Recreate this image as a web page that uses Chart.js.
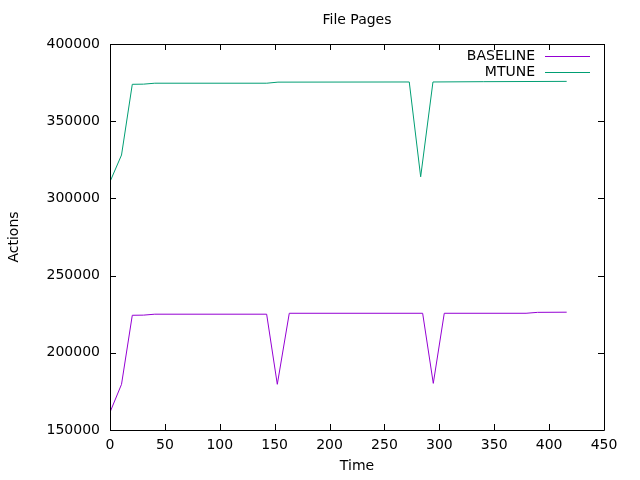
<!DOCTYPE html>
<html>
<head>
<meta charset="utf-8">
<script src="https://cdn.jsdelivr.net/npm/chart.js@4/dist/chart.umd.min.js"></script>
<style>
html,body{margin:0;padding:0;background:#fff;}
#wrap{width:640px;height:480px;}
</style>
</head>
<body>
<div id="wrap"><canvas id="c" width="640" height="480"></canvas></div>
<script>
const chartTitle = "File Pages";
const xTitle = "Time";
const yTitle = "Actions";
const seriesNames = ["BASELINE", "MTUNE"];
const seriesColors = ["#9400D3", "#009E73"];

const baselineTimes  = [0, 10.5, 20.3, 30.5, 40.8, 142.7, 152.4, 163.3, 284.8, 294.5, 304.5, 379, 389.5, 416];
const baselineValues = [161500, 179600, 224300, 224400, 225000, 225000, 179600, 225600, 225600, 180200, 225600, 225600, 226200, 226300];

const mtuneTimes  = [0, 10.5, 20.3, 30.5, 40.8, 142.8, 153, 272.6, 283, 294.2, 340, 416];
const mtuneValues = [310800, 328100, 373900, 374000, 374600, 374600, 375300, 375400, 314000, 375400, 375600, 375800];

const xTicks = [0, 50, 100, 150, 200, 250, 300, 350, 400, 450];
const yTicks = [150000, 200000, 250000, 300000, 350000, 400000];

const FONT = "DejaVu Sans";

function toPoints(xs, ys){ return xs.map((x,i)=>({x:x, y:ys[i]})); }

const frame = {
  id: 'frame',
  afterDraw(chart){
    const ctx = chart.ctx, a = chart.chartArea;
    const xs = chart.scales.x, ys = chart.scales.y;
    ctx.save();
    ctx.strokeStyle = '#000';
    ctx.lineWidth = 1;
    ctx.beginPath();
    ctx.rect(Math.round(a.left)+0.5, Math.round(a.top)+0.5, Math.round(a.right-a.left), Math.round(a.bottom-a.top));
    ctx.stroke();
    const L = 6;
    ctx.beginPath();
    xTicks.forEach(v=>{
      const px = Math.round(xs.getPixelForValue(v))+0.5;
      ctx.moveTo(px, a.bottom); ctx.lineTo(px, a.bottom-L);
      ctx.moveTo(px, a.top); ctx.lineTo(px, a.top+L);
    });
    yTicks.forEach(v=>{
      const py = Math.round(ys.getPixelForValue(v))+0.5;
      ctx.moveTo(a.left, py); ctx.lineTo(a.left+L, py);
      ctx.moveTo(a.right, py); ctx.lineTo(a.right-L, py);
    });
    ctx.stroke();
    // legend
    ctx.font = "14px '" + FONT + "'";
    ctx.textAlign = 'right';
    ctx.textBaseline = 'middle';
    chart.data.datasets.forEach((ds, i)=>{
      const y = 56 + i*16;
      ctx.fillStyle = '#000';
      ctx.fillText(ds.label, 535, y);
      ctx.strokeStyle = ds.borderColor;
      ctx.beginPath();
      ctx.moveTo(545, y+0.5); ctx.lineTo(590, y+0.5);
      ctx.stroke();
    });
    ctx.restore();
  }
};

Chart.defaults.font.family = FONT;
Chart.defaults.font.size = 14;
Chart.defaults.color = '#000';

new Chart(document.getElementById('c'), {
  type: 'line',
  data: {
    datasets: [
      {label: seriesNames[0], data: toPoints(baselineTimes, baselineValues), borderColor: seriesColors[0], borderWidth: 1, pointRadius: 0, tension: 0, fill: false},
      {label: seriesNames[1], data: toPoints(mtuneTimes, mtuneValues), borderColor: seriesColors[1], borderWidth: 1, pointRadius: 0, tension: 0, fill: false}
    ]
  },
  options: {
    responsive: false,
    animation: false,
    layout: {padding: {left: 0, right: 36, top: 0, bottom: 0}},
    plugins: {
      legend: {display: false},
      tooltip: {enabled: false},
      title: {display: true, fullSize: false, text: chartTitle, font: {size: 14, weight: 'normal'}, padding: {top: 12, bottom: 15.2}}
    },
    scales: {
      x: {
        type: 'linear', min: 0, max: 450,
        afterBuildTicks: s => { s.ticks = xTicks.map(v=>({value:v})); },
        afterFit: s => { s.height = 50; },
        ticks: {padding: 7, callback: v => String(v), maxRotation: 0},
        grid: {display: false, drawTicks: false},
        border: {display: false},
        title: {display: true, text: xTitle, padding: {top: 0, bottom: 5}}
      },
      y: {
        type: 'linear', min: 150000, max: 400000,
        afterBuildTicks: s => { s.ticks = yTicks.map(v=>({value:v})); },
        afterFit: s => { s.width = 110; },
        ticks: {padding: 10, callback: v => String(v)},
        grid: {display: false, drawTicks: false},
        border: {display: false},
        title: {display: true, text: yTitle, padding: {top: 6, bottom: 0}}
      }
    }
  },
  plugins: [frame]
});
</script>
</body>
</html>
